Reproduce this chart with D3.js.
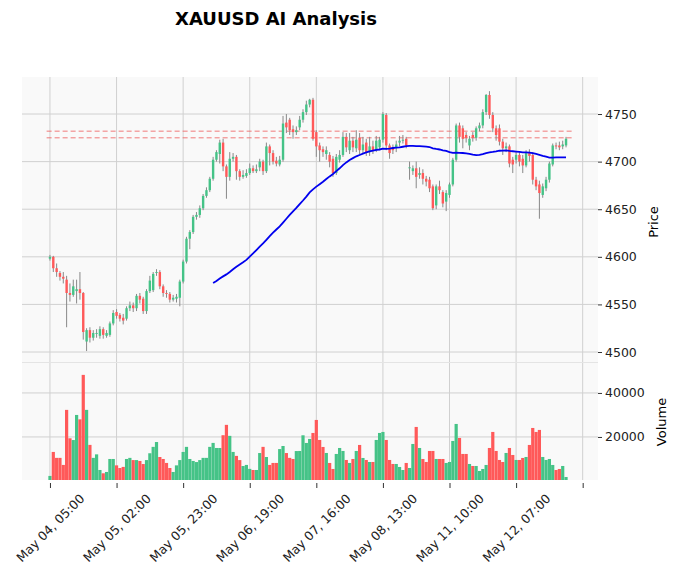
<!DOCTYPE html>
<html><head><meta charset="utf-8">
<script src="https://cdn.jsdelivr.net/npm/d3@7"></script>
<style>body{margin:0;background:#fff}text{font-family:"DejaVu Sans",sans-serif}</style>
</head><body><svg id="c" width="679" height="579"></svg>
<script>
const opens=[4598,4600,4588,4583,4579,4576,4562,4560,4564,4566,4562,4511,4523,4515,4519,4517,4524,4517,4518,4530,4542,4539,4536,4535,4546,4549,4546,4559,4556,4543,4564,4565,4583,4584,4569,4562,4561,4555,4556,4557,4574,4595,4619,4626,4642,4644,4651,4664,4670,4682,4702,4708,4720,4695,4684,4703,4705,4690,4684,4685,4688,4693,4690,4694,4700,4690,4716,4709,4701,4697,4702,4741,4744,4734,4731,4736,4744,4752,4760,4765,4731,4717,4713,4708,4707,4703,4688,4702,4707,4726,4712,4722,4714,4725,4712,4720,4710,4716,4712,4715,4723,4749,4717,4715,4715,4720,4722,4724,4693,4690,4693,4686,4688,4682,4681,4674,4654,4674,4668,4658,4665,4676,4702,4738,4735,4728,4717,4728,4725,4735,4738,4752,4770,4749,4735,4735,4721,4714,4716,4702,4702,4707,4703,4696,4709,4707,4681,4676,4665,4672,4681,4697,4717,4717,4716,4717];
const highs=[4602,4601,4593,4585,4584,4580,4572,4576,4576,4584,4563,4525,4526,4523,4524,4527,4526,4523,4532,4544,4545,4541,4540,4548,4553,4552,4561,4562,4558,4566,4580,4584,4587,4586,4571,4565,4563,4560,4561,4576,4597,4621,4628,4644,4647,4654,4666,4673,4684,4705,4712,4723,4724,4697,4710,4709,4707,4692,4691,4692,4698,4696,4697,4703,4702,4720,4718,4712,4705,4706,4748,4750,4746,4738,4737,4748,4755,4764,4766,4767,4733,4720,4716,4716,4710,4706,4708,4712,4731,4730,4730,4726,4733,4730,4726,4724,4726,4722,4727,4726,4752,4751,4719,4718,4722,4727,4728,4726,4700,4696,4700,4694,4692,4685,4684,4676,4676,4680,4670,4670,4678,4704,4740,4741,4738,4731,4727,4731,4737,4741,4755,4771,4774,4752,4738,4739,4724,4720,4718,4705,4710,4710,4707,4712,4713,4710,4684,4680,4677,4684,4700,4719,4720,4721,4722,4726];
const lows=[4596,4584,4579,4575,4572,4526,4553,4558,4551,4555,4513,4501,4510,4512,4515,4514,4514,4515,4516,4528,4535,4532,4529,4533,4543,4542,4543,4551,4540,4540,4562,4563,4580,4566,4558,4557,4552,4553,4552,4548,4572,4593,4608,4624,4639,4641,4649,4662,4668,4680,4700,4698,4690,4661,4680,4700,4681,4680,4682,4683,4686,4688,4688,4690,4686,4688,4696,4697,4695,4695,4700,4730,4728,4724,4728,4733,4741,4749,4757,4722,4705,4700,4705,4702,4694,4684,4686,4699,4705,4710,4708,4710,4710,4708,4708,4706,4706,4708,4710,4712,4720,4712,4703,4708,4710,4716,4719,4714,4681,4686,4672,4682,4676,4674,4668,4649,4650,4666,4652,4648,4662,4674,4700,4720,4714,4720,4712,4721,4722,4732,4735,4749,4745,4731,4722,4717,4707,4710,4694,4688,4698,4695,4688,4694,4700,4676,4670,4640,4662,4669,4678,4695,4713,4712,4713,4715];
const closes=[4600,4588,4584,4579,4577,4562,4560,4569,4566,4562,4521,4523,4515,4520,4520,4524,4518,4520,4530,4541,4538,4535,4533,4546,4549,4546,4559,4555,4543,4564,4575,4582,4584,4569,4562,4561,4555,4557,4558,4574,4595,4619,4626,4642,4644,4651,4664,4670,4682,4702,4710,4720,4695,4684,4703,4705,4690,4684,4686,4688,4693,4690,4692,4700,4690,4716,4709,4700,4698,4702,4740,4736,4733,4731,4733,4744,4752,4760,4765,4724,4716,4712,4710,4712,4700,4688,4705,4707,4726,4715,4722,4715,4723,4712,4718,4710,4716,4712,4722,4723,4750,4717,4709,4712,4718,4722,4723,4717,4694,4693,4684,4688,4682,4679,4672,4651,4674,4670,4656,4667,4676,4702,4738,4726,4724,4725,4724,4725,4735,4738,4752,4770,4749,4735,4728,4721,4714,4716,4698,4697,4707,4700,4696,4709,4706,4681,4674,4667,4674,4681,4698,4717,4716,4715,4718,4724];
const volumes=[2300,13200,10500,10500,7300,32300,19400,18600,30000,28000,48200,32300,16400,10500,12100,5000,3500,4100,10000,10000,7100,5900,6400,10000,10500,9500,9500,9100,7700,9500,12600,15500,17700,10900,10000,8200,5900,4100,7100,9500,13200,15500,10000,9100,8600,9500,10500,10500,15500,17300,15000,15000,20800,25500,20500,13200,11400,9500,6800,7300,5500,5000,5000,12700,15500,10900,7300,8200,8200,14500,15900,12700,10500,10000,13600,13640,20760,17280,19100,21820,27730,18640,15460,12730,8190,5460,12280,15000,13640,9550,8190,10000,13640,16370,10460,9550,8640,8640,18640,21820,22280,18640,9550,7730,7730,6370,5000,8190,5910,16820,24550,15000,10000,8640,13640,13640,10000,10000,10000,8190,8640,18190,25910,19550,12280,12280,7730,6820,6820,4550,5460,7280,15000,22280,13640,9550,8640,12730,15000,11820,9550,9550,10460,10910,16370,24090,22280,23190,10910,9550,10000,7280,5000,5460,6820,1820];
const tickIdx=[0,20,40,60,80,100,120,140,160];
const tickLabels=["May 04, 05:00","May 05, 02:00","May 05, 23:00","May 06, 19:00","May 07, 16:00","May 08, 13:00","May 11, 10:00","May 12, 07:00",""];
const priceTicks=[4500,4550,4600,4650,4700,4750];
const volTicks=[20000,40000];
const hLines=[4732,4725];
const maWindow=50;

const UP="#45c387",DN="#ff5959";
const svg=d3.select("#c");
const L=22,R=598,PT=77,PB=362,VT=363,VB=480;
const x=d3.scaleLinear().domain([-8.4,164.6]).range([L,R]);
const y=d3.scaleLinear().domain([4489.5,4788.9]).range([PB,PT]);
const yv=d3.scaleLinear().domain([450,53600]).range([VB,VT]);
svg.append("rect").attr("x",L).attr("y",PT).attr("width",R-L).attr("height",VB-PT).attr("fill","#f9f9f9");
const grid=svg.append("g").attr("stroke","#d0d0d0").attr("stroke-width",1);
tickIdx.forEach(t=>grid.append("line").attr("x1",x(t)).attr("x2",x(t)).attr("y1",PT).attr("y2",VB));
priceTicks.forEach(p=>grid.append("line").attr("x1",L).attr("x2",R).attr("y1",y(p)).attr("y2",y(p)));
volTicks.forEach(v=>grid.append("line").attr("x1",L).attr("x2",R).attr("y1",yv(v)).attr("y2",yv(v)));
grid.append("line").attr("x1",L).attr("x2",R).attr("y1",PB+0.5).attr("y2",PB+0.5).attr("stroke","#e4e4e4");
const idx=d3.range(opens.length);
svg.append("g").selectAll("rect").data(idx).join("rect")
 .attr("x",i=>x(i)-1.6).attr("width",3.2).attr("y",i=>yv(volumes[i])).attr("height",i=>VB-yv(volumes[i]))
 .attr("fill",i=>closes[i]>=opens[i]?UP:DN);
hLines.forEach(h=>svg.append("line").attr("x1",x(-1)).attr("x2",x(157)).attr("y1",y(h)).attr("y2",y(h))
 .attr("stroke","#f06464").attr("stroke-width",1).attr("stroke-dasharray","5,3").attr("opacity",0.85));
const cg=svg.append("g");
cg.selectAll("line").data(idx).join("line").attr("x1",i=>x(i)).attr("x2",i=>x(i))
 .attr("y1",i=>y(highs[i])).attr("y2",i=>y(lows[i])).attr("stroke","#888").attr("stroke-width",1);
cg.selectAll("rect").data(idx).join("rect").attr("x",i=>x(i)-1.2).attr("width",2.4)
 .attr("y",i=>y(Math.max(opens[i],closes[i]))).attr("height",i=>Math.max(0.8,Math.abs(y(opens[i])-y(closes[i]))))
 .attr("fill",i=>closes[i]>=opens[i]?UP:DN);
const ma=idx.filter(i=>i>=maWindow-1).map(i=>[i,d3.mean(closes.slice(i-maWindow+1,i+1))]);
svg.append("path").datum(ma).attr("fill","none").attr("stroke","#0000ee").attr("stroke-width",1.8)
 .attr("d",d3.line().x(d=>x(d[0])).y(d=>y(d[1])));
const ay=svg.append("g").attr("transform",`translate(${R},0)`).call(d3.axisRight(y).tickValues(priceTicks).tickFormat(d3.format("d")).tickSize(4));
const av=svg.append("g").attr("transform",`translate(${R},0)`).call(d3.axisRight(yv).tickValues(volTicks).tickFormat(d3.format("d")).tickSize(4));
const ax=svg.append("g").attr("transform",`translate(0,${VB+3})`).call(d3.axisBottom(x).tickValues(tickIdx).tickFormat((d,i)=>tickLabels[i]).tickSize(5));
[ay,av,ax].forEach(a=>{a.select(".domain").remove();a.selectAll("text").attr("font-size",12.5).attr("fill","#222");a.selectAll("line").attr("stroke","#333");});
ax.selectAll("text").attr("text-anchor","middle").attr("x",0).attr("y",0).attr("dy","0.35em").attr("transform","translate(0,45) rotate(-45)");
svg.append("text").attr("transform","translate(658,222) rotate(-90)").attr("text-anchor","middle").attr("font-size",13).text("Price");
svg.append("text").attr("transform","translate(666,422) rotate(-90)").attr("text-anchor","middle").attr("font-size",13).text("Volume");
svg.append("text").attr("x",276).attr("y",25).attr("text-anchor","middle").attr("font-size",18).attr("font-weight","bold").text("XAUUSD AI Analysis");
</script></body></html>
